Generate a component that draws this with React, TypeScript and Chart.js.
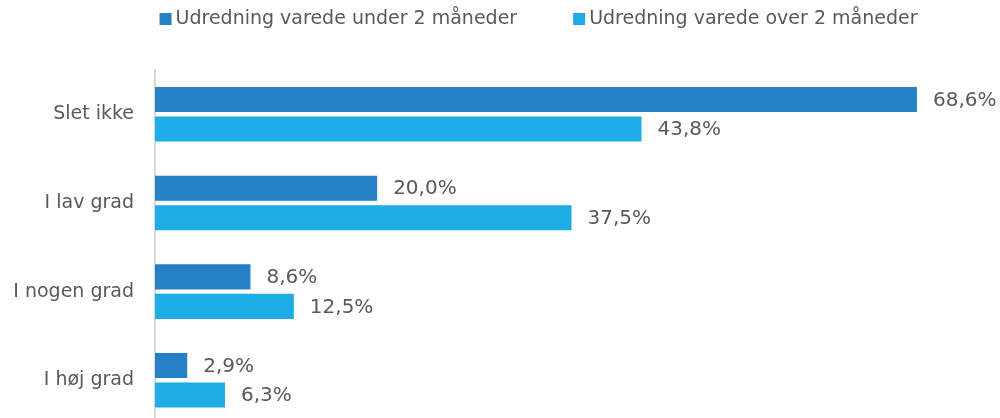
import React, { useEffect, useRef } from "react";
import { Chart, registerables } from "chart.js";

Chart.register(...registerables);

const categories = ["Slet ikke", "I lav grad", "I nogen grad", "I høj grad"];
const seriesNames = ["Udredning varede under 2 måneder", "Udredning varede over 2 måneder"];
const under2 = [68.6, 20.0, 8.6, 2.9];
const over2 = [43.8, 37.5, 12.5, 6.3];
const colors = ["#2581C4", "#1DACE3"];

const FONT = "DejaVu Sans";
const TEXT = "#595959";

const fmt = (v: number) => v.toFixed(1).replace(".", ",") + "%";

const labelPlugin = {
  id: "barLabels",
  afterDatasetsDraw(chart: any) {
    const ctx = chart.ctx;
    ctx.save();
    ctx.font = `20px "${FONT}"`;
    ctx.fillStyle = TEXT;
    ctx.textAlign = "left";
    ctx.textBaseline = "middle";
    chart.data.datasets.forEach((ds: any, di: number) => {
      const meta = chart.getDatasetMeta(di);
      meta.data.forEach((bar: any, i: number) => {
        ctx.fillText(fmt(ds.data[i]), bar.x + 16, bar.y + 1);
      });
    });
    ctx.restore();
  },
};

const legendPlugin = {
  id: "customLegend",
  afterDraw(chart: any) {
    const ctx = chart.ctx;
    ctx.save();
    ctx.font = `19px "${FONT}"`;
    ctx.textBaseline = "middle";
    ctx.textAlign = "left";
    const box = 12;
    const boxGap = 4;
    const itemGap = 56;
    const widths = seriesNames.map((n) => ctx.measureText(n).width);
    const total = widths.reduce((a, w) => a + box + boxGap + w, 0) + itemGap * (seriesNames.length - 1);
    let x = 538.5 - total / 2;
    const y = 19;
    seriesNames.forEach((n, i) => {
      ctx.fillStyle = colors[i];
      ctx.fillRect(x, y - box / 2, box, box);
      ctx.fillStyle = TEXT;
      ctx.fillText(n, x + box + boxGap, y);
      x += box + boxGap + widths[i] + itemGap;
    });
    ctx.restore();
  },
};

export default function App() {
  const ref = useRef<HTMLCanvasElement>(null);
  useEffect(() => {
    if (!ref.current) return;
    const chart = new Chart(ref.current, {
      type: "bar",
      data: {
        labels: categories,
        datasets: [
          { label: seriesNames[0], data: under2, backgroundColor: colors[0], categoryPercentage: 0.665, barPercentage: 0.85 },
          { label: seriesNames[1], data: over2, backgroundColor: colors[1], categoryPercentage: 0.665, barPercentage: 0.85 },
        ],
      },
      options: {
        indexAxis: "y",
        animation: false,
        responsive: false,
        maintainAspectRatio: false,
        layout: { padding: { top: 70, bottom: 5.5, right: 67.5, left: 0 } },
        plugins: { legend: { display: false }, tooltip: { enabled: false } },
        scales: {
          x: { display: false, min: 0, max: 70 },
          y: {
            grid: { display: false, drawTicks: false },
            border: { display: true, color: "#d9d9d9", width: 2 },
            ticks: { color: TEXT, padding: 21, font: { family: FONT, size: 19 } },
            afterFit: (s: any) => { s.width = 155; },
          },
        },
      },
      plugins: [labelPlugin, legendPlugin],
    });
    return () => chart.destroy();
  }, []);
  return (
    <div style={{ position: "absolute", left: 0, top: 0, width: 1000, height: 457 }}>
      <canvas ref={ref} width={1000} height={457} style={{ display: "block" }} />
    </div>
  );
}
